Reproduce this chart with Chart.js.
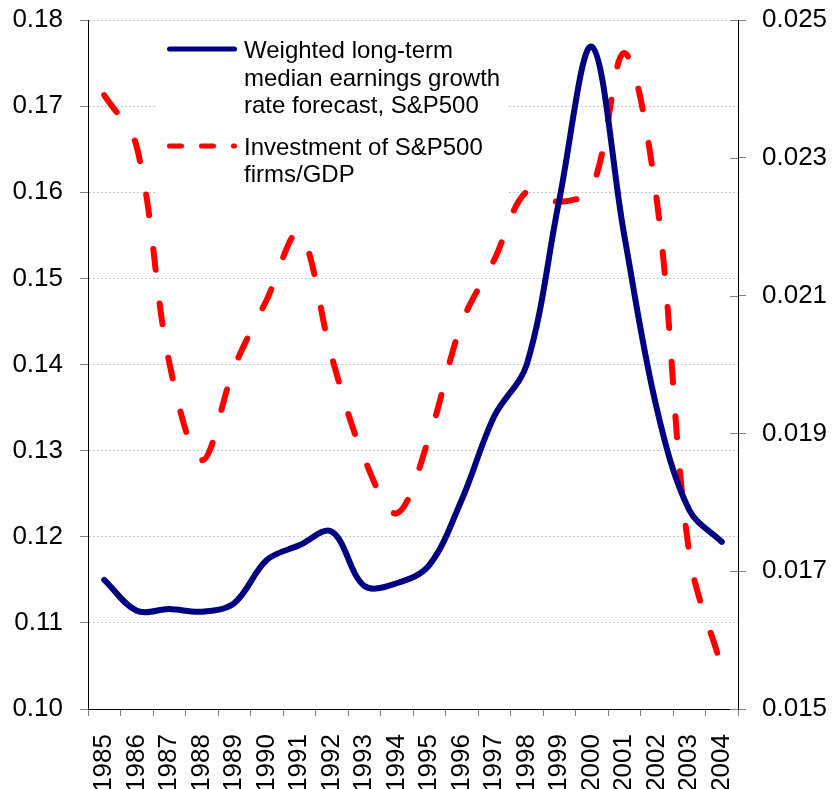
<!DOCTYPE html>
<html>
<head>
<meta charset="utf-8">
<script src="https://cdn.jsdelivr.net/npm/chart.js@4/dist/chart.umd.min.js"></script>
<style>
  html, body { margin: 0; padding: 0; background: #fff; }
  #wrap { width: 832px; height: 789px; position: relative; }
</style>
</head>
<body>
<div id="wrap"><canvas id="growthChart"></canvas></div>
<script>
const years = ['1985', '1986', '1987', '1988', '1989', '1990', '1991', '1992', '1993', '1994',
  '1995', '1996', '1997', '1998', '1999', '2000', '2001', '2002', '2003', '2004'];

// left axis: earnings growth forecast
const growthForecast = [0.1150, 0.1114, 0.1116, 0.1113, 0.1123, 0.1173, 0.1190, 0.1206, 0.1143, 0.1146,
  0.1167, 0.1243, 0.1340, 0.1400, 0.1591, 0.1769, 0.1550, 0.1349, 0.1231, 0.1194];

// right axis: investment / GDP
const investmentGdp = [0.02391, 0.02316, 0.02003, 0.01861, 0.01996, 0.02094, 0.02191, 0.02011, 0.01864, 0.01784,
  0.01895, 0.02060, 0.02152, 0.02251, 0.02236, 0.02256, 0.02452, 0.02239, 0.01726, 0.01560];

const leftTicks = [0.10, 0.11, 0.12, 0.13, 0.14, 0.15, 0.16, 0.17, 0.18];
const rightTicks = [0.015, 0.017, 0.019, 0.021, 0.023, 0.025];

const seriesNames = [
  ['Weighted long-term', 'median earnings growth', 'rate forecast, S&P500'],
  ['Investment of S&P500', 'firms/GDP']
];

const FONT = "'Liberation Sans', Arial, sans-serif";

const legendBox = {
  id: 'legendBox',
  beforeDatasetsDraw(chart) {
    const { ctx } = chart;
    ctx.save();
    ctx.fillStyle = '#fff';
    ctx.fillRect(157, 28, 350, 170);

    ctx.lineWidth = 5;
    ctx.lineCap = 'round';
    ctx.strokeStyle = '#000080';
    ctx.beginPath();
    ctx.moveTo(169.5, 49);
    ctx.lineTo(234.5, 49);
    ctx.stroke();

    ctx.strokeStyle = '#ff0000';
    ctx.setLineDash([12, 20]);
    ctx.beginPath();
    ctx.moveTo(169.5, 146);
    ctx.lineTo(234.5, 146);
    ctx.stroke();
    ctx.setLineDash([]);

    ctx.fillStyle = '#000';
    ctx.font = '24px ' + FONT;
    ctx.textAlign = 'left';
    ctx.textBaseline = 'alphabetic';
    seriesNames[0].forEach((t, i) => ctx.fillText(t, 244, 58 + i * 27.5));
    seriesNames[1].forEach((t, i) => ctx.fillText(t, 244, 155 + i * 27));
    ctx.restore();
  },
  afterDraw(chart) {
    // right axis tick marks cross the axis line
    const { ctx, chartArea } = chart;
    const s = chart.scales.y1;
    ctx.save();
    ctx.strokeStyle = '#808080';
    ctx.lineWidth = 1;
    s.ticks.forEach((t) => {
      const y = Math.round(s.getPixelForValue(t.value)) + 0.5;
      ctx.beginPath();
      ctx.moveTo(chartArea.right - 8, y);
      ctx.lineTo(chartArea.right, y);
      ctx.stroke();
    });
    ctx.restore();
  }
};

const fitY = (w) => (s) => {
  s.width = w;
  s.paddingTop = 0;
  s.paddingBottom = 0;
};

new Chart(document.getElementById('growthChart'), {
  type: 'line',
  data: {
    labels: years,
    datasets: [
      {
        label: seriesNames[0].join(' '),
        data: growthForecast,
        yAxisID: 'y',
        borderColor: '#000080',
        borderWidth: 6,
        tension: 0.35,
        pointRadius: 0,
        borderCapStyle: 'round',
        borderJoinStyle: 'round'
      },
      {
        label: seriesNames[1].join(' '),
        data: investmentGdp,
        yAxisID: 'y1',
        borderColor: '#ff0000',
        borderWidth: 6,
        borderDash: [21, 34],
        borderCapStyle: 'round',
        tension: 0.35,
        pointRadius: 0
      }
    ]
  },
  options: {
    responsive: true,
    maintainAspectRatio: false,
    animation: false,
    layout: { padding: { top: 20, left: 0, right: 0, bottom: 0 } },
    plugins: { legend: { display: false }, tooltip: { enabled: false } },
    scales: {
      x: {
        offset: true,
        grid: { offset: true, drawOnChartArea: false, tickLength: 7, tickColor: '#808080' },
        border: { color: '#000', width: 1 },
        ticks: {
          autoSkip: false, minRotation: 90, maxRotation: 90, padding: 18,
          color: '#000', font: { family: FONT, size: 26 }
        },
        afterFit: (s) => { s.height = 80; }
      },
      y: {
        position: 'left',
        min: 0.10,
        max: 0.18,
        afterBuildTicks: (s) => { s.ticks = leftTicks.map((v) => ({ value: v })); },
        grid: { color: '#c8c8c8', lineWidth: 1, tickLength: 8, tickColor: '#808080', tickBorderDash: [] },
        border: { color: '#000', width: 1, dash: [2, 2] },
        ticks: {
          padding: 17, color: '#000', font: { family: FONT, size: 26 },
          callback: (v) => Number(v).toFixed(2)
        },
        afterFit: fitY(88)
      },
      y1: {
        position: 'right',
        min: 0.015,
        max: 0.025,
        afterBuildTicks: (s) => { s.ticks = rightTicks.map((v) => ({ value: v })); },
        grid: { drawOnChartArea: false, tickLength: 8, tickColor: '#808080' },
        border: { color: '#000', width: 1 },
        ticks: {
          padding: 16, color: '#000', font: { family: FONT, size: 26 },
          callback: (v) => Number(v).toFixed(3)
        },
        afterFit: fitY(94)
      }
    }
  },
  plugins: [legendBox]
});
</script>
</body>
</html>
